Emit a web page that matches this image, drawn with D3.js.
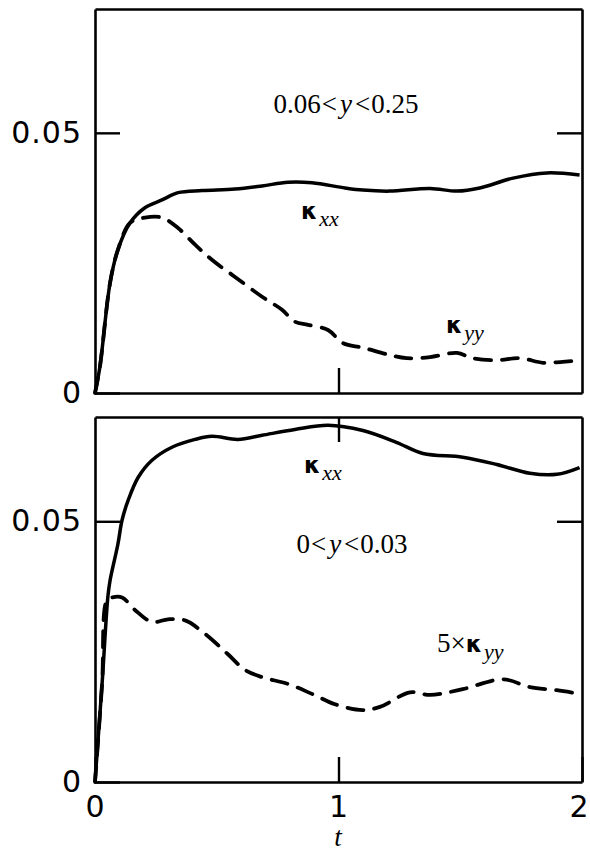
<!DOCTYPE html>
<html>
<head>
<meta charset="utf-8">
<script src="https://cdn.jsdelivr.net/npm/d3@7"></script>
<style>
  body { margin: 0; background: #fff; }
  .frame path.domain { stroke: #000; stroke-width: 2.6; }
  .frame line { stroke: #000; stroke-width: 2.4; }
  .frame text { font-family: "DejaVu Sans", sans-serif; font-size: 30px; letter-spacing: 1px; fill: #000; }
</style>
</head>
<body>
<svg id="chart" width="590" height="852"></svg>
<script>
// time values and curves
// top panel: 0.06 < y < 0.25
var topKxxT = [0, 0.02, 0.062, 0.094, 0.144, 0.205, 0.275, 0.341, 0.44, 0.575, 0.686, 0.793, 0.891, 1.027, 1.10, 1.21, 1.376, 1.487, 1.58, 1.717, 1.856, 1.99];
var topKxx  = [0, 0.005, 0.0212, 0.0275, 0.0327, 0.0356, 0.0371, 0.0385, 0.0389, 0.0392, 0.0398, 0.0405, 0.0404, 0.0394, 0.0390, 0.0388, 0.0393, 0.0388, 0.0394, 0.0413, 0.0423, 0.0419];
var topKyyT = [0, 0.02, 0.062, 0.094, 0.144, 0.205, 0.275, 0.341, 0.411, 0.48, 0.575, 0.686, 0.768, 0.821, 0.875, 0.957, 1.018, 1.10, 1.21, 1.28, 1.376, 1.487, 1.55, 1.65, 1.745, 1.84, 1.92, 1.98];
var topKyy  = [0, 0.005, 0.0212, 0.0275, 0.0327, 0.0337, 0.0337, 0.0317, 0.0285, 0.0256, 0.0223, 0.0185, 0.0160, 0.0137, 0.0131, 0.0121, 0.0096, 0.0087, 0.0073, 0.0067, 0.0069, 0.0077, 0.0067, 0.0063, 0.0067, 0.0058, 0.0060, 0.0062];

// bottom panel: 0 < y < 0.03
var botKxxT = [0, 0.029, 0.053, 0.062, 0.094, 0.111, 0.136, 0.177, 0.234, 0.316, 0.411, 0.48, 0.587, 0.686, 0.821, 0.957, 1.10, 1.24, 1.347, 1.51, 1.65, 1.786, 1.897, 1.99];
var botKxx  = [0, 0.0188, 0.0356, 0.0387, 0.0456, 0.0502, 0.0540, 0.0584, 0.0617, 0.0642, 0.0657, 0.0663, 0.0657, 0.0665, 0.0676, 0.0684, 0.0674, 0.0651, 0.0630, 0.0623, 0.0609, 0.0592, 0.0590, 0.0603];
var botKyyT = [0, 0.029, 0.049, 0.07, 0.111, 0.164, 0.234, 0.30, 0.37, 0.452, 0.546, 0.616, 0.686, 0.793, 0.891, 0.986, 1.10, 1.17, 1.294, 1.376, 1.51, 1.676, 1.786, 1.897, 1.99];
var botKyy5 = [0, 0.0188, 0.0349, 0.0354, 0.0354, 0.0330, 0.0307, 0.0312, 0.0310, 0.0284, 0.0245, 0.0215, 0.0201, 0.0188, 0.0169, 0.0149, 0.0138, 0.0144, 0.0172, 0.0167, 0.0178, 0.0197, 0.0182, 0.0176, 0.0169];

var xTicks = [0, 1, 2];
var yTicks = [0, 0.05];

function zip(ts, vs) {
  return ts.map(function(t, i) { return [t, vs[i]]; });
}

var svg = d3.select("#chart");

var margin = {left: 95, right: 8},
    width = 590 - margin.left - margin.right;

var x = d3.scaleLinear().domain([0, 2]).range([0, width]);

var panels = [
  { top: 9, bottom: 393, ymax: 0.0738, xLabels: false,
    solid: zip(topKxxT, topKxx), dashed: zip(topKyyT, topKyy) },
  { top: 417, bottom: 782, ymax: 0.07, xLabels: true,
    solid: zip(botKxxT, botKxx), dashed: zip(botKyyT, botKyy5) }
];

panels.forEach(function(p) {
  var h = p.bottom - p.top;
  var y = d3.scaleLinear().domain([0, p.ymax]).range([h, 0]);

  var g = svg.append("g")
      .attr("transform", "translate(" + margin.left + "," + p.top + ")");

  var line = d3.line()
      .x(function(d) { return x(d[0]); })
      .y(function(d) { return y(d[1]); })
      .curve(d3.curveCatmullRom.alpha(0.5));

  g.append("path")
      .datum(p.dashed)
      .attr("fill", "none")
      .attr("stroke", "#000")
      .attr("stroke-width", 3.8)
      .attr("stroke-linecap", "round")
      .attr("stroke-dasharray", "16,11")
      .attr("d", line);

  g.append("path")
      .datum(p.solid)
      .attr("fill", "none")
      .attr("stroke", "#000")
      .attr("stroke-width", 3.5)
      .attr("d", line);

  // frame with inward ticks
  g.append("g").attr("class", "frame")
      .call(d3.axisLeft(y).tickValues(yTicks).tickSizeInner(-25).tickSizeOuter(0)
        .tickPadding(13).tickFormat(function(d) { return d === 0 ? "0" : d3.format(".2f")(d); }));

  g.append("g").attr("class", "frame")
      .attr("transform", "translate(" + width + ",0)")
      .call(d3.axisRight(y).tickValues([0.05]).tickSizeInner(-25).tickSizeOuter(0).tickFormat(""));

  g.append("g").attr("class", "frame")
      .call(d3.axisTop(x).tickValues(p.xLabels ? [1] : []).tickSizeInner(-25).tickSizeOuter(0).tickFormat(""));

  var bx = g.append("g").attr("class", "frame")
      .attr("transform", "translate(0," + h + ")")
      .call(d3.axisBottom(x).tickValues(p.xLabels ? xTicks : [1]).tickSizeInner(-25).tickSizeOuter(0)
        .tickPadding(14).tickFormat(p.xLabels ? d3.format("d") : ""));
  // keep the "2" inside the page
  bx.selectAll(".tick text").filter(function(d) { return d === 2; }).attr("dx", -3);
});

svg.append("text")
    .attr("x", 338).attr("y", 846)
    .attr("text-anchor", "middle")
    .style("font-family", "Liberation Serif, serif")
    .style("font-style", "italic")
    .style("font-size", "27px")
    .text("t");

// region annotations
function region(g, cx, cy, a, b) {
  var t = g.append("text")
      .attr("x", cx).attr("y", cy)
      .attr("text-anchor", "middle")
      .style("font-family", "Liberation Serif, serif")
      .style("font-size", "27px");
  t.append("tspan").text(a);
  t.append("tspan").attr("dx", 1).text("<");
  t.append("tspan").attr("dx", 3).style("font-style", "italic").text("y");
  t.append("tspan").attr("dx", 3).text("<");
  t.append("tspan").attr("dx", 1).text(b);
}

function kappa(g, px, py, sub, prefix) {
  var t = g.append("text")
      .attr("x", px).attr("y", py);
  if (prefix) {
    t.append("tspan").style("font-family", "Liberation Serif, serif").style("font-size", "27px").text(prefix);
  }
  t.append("tspan")
      .style("font-family", "DejaVu Sans, sans-serif")
      .style("font-weight", "bold")
      .style("font-size", "23px")
      .text("κ");
  t.append("tspan").attr("dy", 7).attr("dx", 2)
      .style("font-family", "Liberation Serif, serif")
      .style("font-style", "italic")
      .style("font-size", "22px")
      .text(sub);
}

region(svg, 346, 113, "0.06", "0.25");
region(svg, 352, 553, "0", "0.03");

kappa(svg, 301, 219, "xx");
kappa(svg, 446, 333, "yy");
kappa(svg, 304, 473, "xx");
kappa(svg, 437, 652, "yy", "5×");
</script>
</body>
</html>
